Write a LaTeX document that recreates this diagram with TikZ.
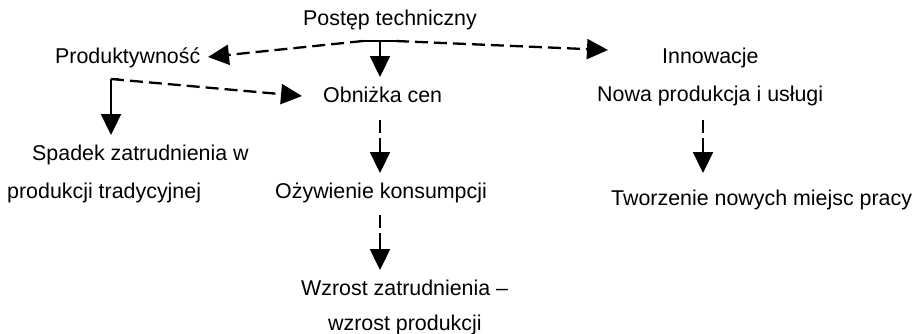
\documentclass[tikz,border=0pt]{standalone}
\usepackage{fontspec}
\setmainfont{Liberation Sans}
\usetikzlibrary{arrows.meta}
\tikzset{
  lbl/.style={anchor=base west, inner sep=0pt, font=\fontsize{21.4}{25}\selectfont},
  conn/.style={line width=2.3pt, -{Triangle[length=21pt,width=20pt]}},
  dl/.style={conn, dash pattern=on 13pt off 6pt},
  vdl/.style={conn, dash pattern=on 13pt off 5pt on 60pt off 1pt},
  plainline/.style={line width=2.3pt}
}
\begin{document}
\begin{tikzpicture}[x=1pt,y=-1pt]
\useasboundingbox (0,0) rectangle (916,333);
% texts
\node[lbl] (post) at (303,25) {Postęp techniczny};
\node[lbl] (prod) at (55,63) {Produktywność};
\node[lbl] (obn) at (323,102) {Obniżka cen};
\node[lbl] (inn) at (662,63) {Innowacje};
\node[lbl] (nowa) at (597,101) {Nowa produkcja i usługi};
\node[lbl] (spad) at (32,160) {Spadek zatrudnienia w};
\node[lbl] (spad2) at (7,198) {produkcji tradycyjnej};
\node[lbl] (ozyw) at (275,198) {Ożywienie konsumpcji};
\node[lbl] (tworz) at (611,205) {Tworzenie nowych miejsc pracy};
\node[lbl] (wzr) at (301,295) {Wzrost zatrudnienia –};
\node[lbl] (wzr2) at (328,330) {wzrost produkcji};
% junction coordinates
\coordinate (J) at (380,41);
\coordinate (jl) at (363,41);
\coordinate (jr) at (396,41);
\coordinate (tipProd) at (208,57);
\coordinate (tipInn) at (608,50);
\coordinate (tipObn) at (380,77);
\coordinate (K) at (111,79);
\coordinate (tipObn2) at (302,96);
\coordinate (tipSpad) at (111,135);
\coordinate (obnB) at (380,120);
\coordinate (tipOzyw) at (380,173);
\coordinate (ozywB) at (380,215);
\coordinate (tipWzr) at (380,270);
\coordinate (nowaB) at (703,120);
\coordinate (tipTworz) at (703,173);
% connectors
\draw[plainline] (jl) -- (jr);
\draw[dl] (jl) -- (tipProd);
\draw[dl] (jr) -- (tipInn);
\draw[conn] (J) -- (tipObn);
\draw[plainline] (K) -- ++(8,0);
\draw[dl] (K) -- (tipObn2);
\draw[conn] (K) -- (tipSpad);
\draw[vdl] (obnB) -- (tipOzyw);
\draw[vdl] (ozywB) -- (tipWzr);
\draw[vdl] (nowaB) -- (tipTworz);
\end{tikzpicture}
\end{document}
